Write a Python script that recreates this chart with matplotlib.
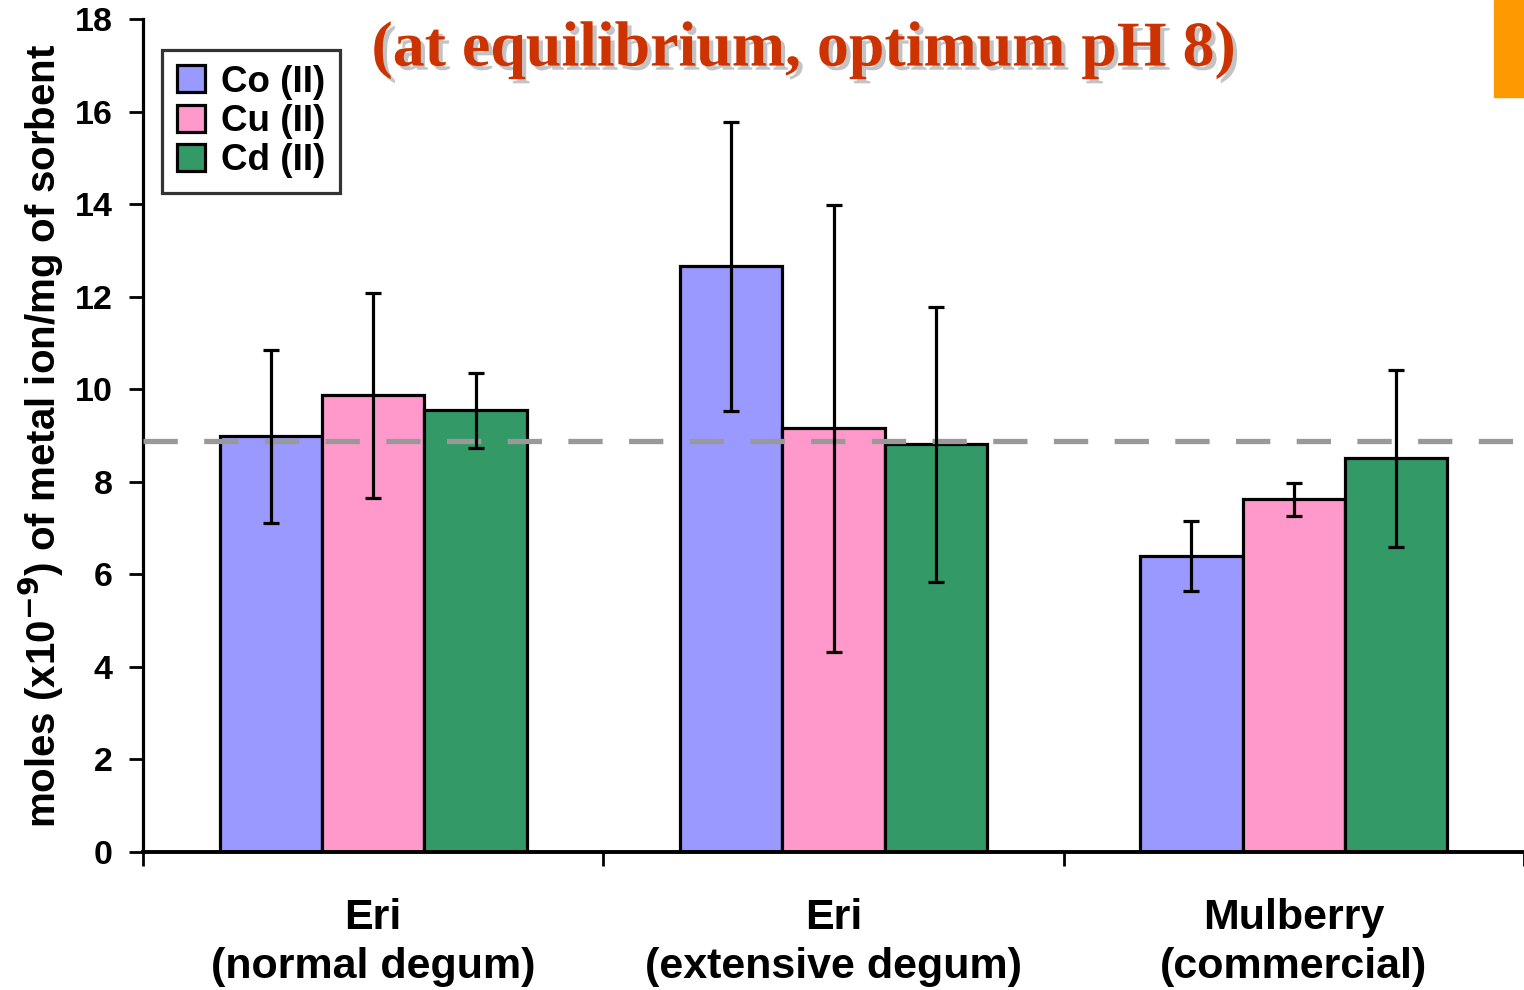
import numpy as np
from matplotlib import pyplot as plt
from matplotlib.patches import Rectangle
import matplotlib.patheffects as pe

# data
groups = ['Eri\n(normal degum)', 'Eri\n(extensive degum)', 'Mulberry\n(commercial)']
metals = ['Co (II)', 'Cu (II)', 'Cd (II)']
co = [8.98, 12.66, 6.39]
cu = [9.87, 9.16, 7.62]
cd = [9.55, 8.81, 8.51]
co_err = [1.87, 3.12, 0.76]
cu_err = [2.22, 4.83, 0.35]
cd_err = [0.81, 2.97, 1.91]
ref_level = 8.88
colors = ['#9999FF', '#FF99CC', '#339966']

plt.rcParams['font.family'] = ['Liberation Sans', 'DejaVu Sans']
plt.rcParams['font.weight'] = 'bold'

fig = plt.figure(figsize=(15.24, 9.9), dpi=100)
ax = fig.add_axes([143/1524, 1-852/990, 1-143/1524, (852-19)/990])

x = np.arange(len(groups)) + 0.5
w = 0.2225
for i, (vals, errs) in enumerate(zip([co, cu, cd], [co_err, cu_err, cd_err])):
    ax.bar(x + (i-1)*w, vals, w, color=colors[i], edgecolor='black',
           linewidth=2.3, label=metals[i], zorder=2)
ax.axhline(ref_level, color='#999999', linewidth=3.8, dashes=(6.5, 5), zorder=3)
for i, (vals, errs) in enumerate(zip([co, cu, cd], [co_err, cu_err, cd_err])):
    ax.errorbar(x + (i-1)*w, vals, yerr=errs, fmt='none', ecolor='black',
                elinewidth=2.3, capsize=6, capthick=2.3, zorder=4)

ax.set_xlim(0, 3)
ax.set_ylim(0, 18)
ax.set_yticks(range(0, 19, 2))
ax.set_xticks([0, 1, 2, 3])
ax.set_xticklabels([])
ax.set_xticks(x, minor=True)
ax.set_xticklabels(groups, minor=True, fontsize=31, fontweight='bold', linespacing=1.3)
ax.tick_params(axis='x', which='minor', length=0, pad=33)
ax.tick_params(axis='x', which='major', length=10, width=2, direction='out')
ax.tick_params(axis='y', length=10, width=2, direction='out', labelsize=24.5, pad=12)
for s in ['top', 'right']:
    ax.spines[s].set_visible(False)
ax.spines['left'].set_linewidth(2.3)
ax.spines['bottom'].set_linewidth(2.8)
ax.set_ylabel('moles (x10$^{\\mathbf{-9}}$) of metal ion/mg of sorbent',
              fontsize=29, fontweight='bold', labelpad=6)

leg = ax.legend(loc='upper left', bbox_to_anchor=(0.014, 0.963), fontsize=26.5,
                frameon=True, fancybox=False, edgecolor='black',
                handlelength=0.75, handleheight=0.75, handletextpad=0.45,
                labelspacing=0.12, borderpad=0.4, borderaxespad=0)
leg.get_frame().set_linewidth(2.3)
for h in leg.legend_handles:
    h.set_linewidth(2.3)

fig.text(0.527, 0.949, '(at equilibrium, optimum pH 8)', ha='center', va='center',
         family='Liberation Serif', fontsize=46, fontweight='bold', color='#CC3300',
         path_effects=[pe.withSimplePatchShadow(offset=(3, -3), shadow_rgbFace='#888888', alpha=0.5)])

fig.add_artist(Rectangle((1494/1524, 1-97/990), 30/1524, 97/990,
                         transform=fig.transFigure, color='#FF9900'))

plt.savefig('out.png', dpi=100)
